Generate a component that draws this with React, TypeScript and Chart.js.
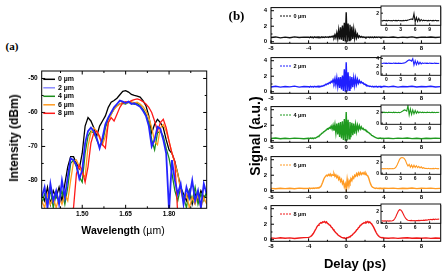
import React, { useEffect, useRef } from "react";
import { Chart, registerables } from "chart.js";

Chart.register(...registerables);

const SANS = '"Liberation Sans", Arial, Helvetica, sans-serif';
const SERIF = '"Liberation Serif", "Times New Roman", serif';

// ---------- (a) output spectra ----------
const wavelengthUm = [
  1.36, 1.37, 1.38, 1.39, 1.4, 1.41, 1.42, 1.43, 1.44, 1.45,
  1.46, 1.47, 1.48, 1.49, 1.5, 1.51, 1.52, 1.53, 1.54, 1.55,
  1.56, 1.57, 1.58, 1.59, 1.6, 1.61, 1.62, 1.63, 1.64, 1.65,
  1.66, 1.67, 1.68, 1.69, 1.7, 1.71, 1.72, 1.73, 1.74, 1.75,
  1.76, 1.77, 1.78, 1.79, 1.8, 1.81, 1.82, 1.83, 1.84, 1.85,
  1.86, 1.87, 1.88, 1.89, 1.9, 1.91, 1.92, 1.93,
];
const spec0um = [
  -84, -86, -82, -87, -83, -85, -82, -86, -81, -76,
  -73, -73, -75, -76.5, -72, -64, -61.5, -62.5, -64.5, -67,
  -64, -62.5, -61, -58.5, -57, -56.5, -55.8, -54.8, -53.8, -53.6,
  -54, -54.7, -55, -55.2, -55.5, -56.5, -58, -61, -66, -63.5,
  -62, -63, -64.5, -68, -71, -72, -74.5, -78, -82, -84,
  -86, -83, -87, -84, -86, -83, -85, -84,
];
const spec2um = [
  -85, -82, -88, -81, -86, -83, -87, -80, -85, -79,
  -73.5, -74, -75.5, -79.5, -77, -69, -65.5, -64.5, -65.5, -67.5,
  -70.5, -67.5, -63.5, -61.5, -60, -58.5, -57.5, -56.5, -56.8, -57.2,
  -56.8, -57.5, -57.3, -57.8, -58.3, -59.5, -61, -64, -70, -68,
  -64.2, -64.8, -68, -72, -89, -74, -80, -84, -81, -87,
  -82, -85, -80, -86, -83, -88, -81, -84,
];
const spec4um = [
  -87, -84, -86, -83, -88, -84, -86, -83, -87, -82,
  -75, -74, -76, -79, -80.5, -72, -67, -65.5, -66, -68,
  -70, -69, -64.5, -62, -60.5, -59, -58, -57.5, -57.3, -57.5,
  -57, -57.2, -57.6, -57.3, -58, -59, -60.5, -63, -68, -71,
  -66, -65.5, -67, -70.5, -73.5, -78, -83, -86, -82, -85,
  -88, -83, -86, -82, -87, -84, -86, -83,
];
const spec6um = [
  -86, -88, -84, -87, -85, -88, -85, -87, -84, -86,
  -80, -74.5, -74, -76, -78, -79, -70, -66, -64.5, -65.5,
  -67.5, -69.5, -67, -63, -60.5, -59, -58.2, -57.5, -57, -57.3,
  -57, -56.8, -57.2, -57, -57.5, -58.3, -59.5, -61.5, -64.5, -68.5,
  -69.5, -64.5, -63.5, -65.5, -68.5, -72, -75, -78, -83, -86,
  -84, -88, -85, -87, -84, -88, -85, -87,
];
const spec8um = [
  -90, -90, -90, -90, -90, -89, -90, -90, -90, -89,
  -90, -88, -78, -75.5, -77, -80.5, -76, -69, -66, -65.5,
  -67, -69.5, -70.5, -63, -61.5, -62.5, -60.5, -58.5, -57.2, -56.8,
  -57, -56.5, -56.2, -56, -56.3, -56.8, -57.5, -58.5, -60, -62.5,
  -65.5, -63, -62, -64.5, -68.5, -72, -74.5, -90, -89, -90,
  -90, -89, -90, -90, -89, -90, -90, -89,
];
const wavelengthTicks = [1.5, 1.65, 1.8];
const wavelengthMinor = [1.425, 1.575, 1.725, 1.875];
const intensityTicks = [-50, -60, -70, -80];
const intensityMinor = [-55, -65, -75, -85];
const thicknessLabels = ["0 \u00b5m", "2 \u00b5m", "4 \u00b5m", "6 \u00b5m", "8 \u00b5m"];

// ---------- (b) cross-correlation traces ----------
const delayPs = [
  -8, -7.5, -7, -6.5, -6, -5.5, -5, -4.5,
  -4, -3.9, -3.8, -3.7, -3.6, -3.5, -3.4, -3.3, -3.2, -3.1,
  -3, -2.9, -2.8, -2.7, -2.6, -2.5, -2.4, -2.3, -2.2, -2.1,
  -2, -1.9, -1.8, -1.7, -1.6, -1.5, -1.4, -1.3, -1.2, -1.1,
  -1, -0.9, -0.8, -0.7, -0.6, -0.5, -0.4, -0.3, -0.2, -0.1,
  0, 0.1, 0.2, 0.3, 0.4, 0.5, 0.6, 0.7, 0.8, 0.9,
  1, 1.1, 1.2, 1.3, 1.4, 1.5, 1.6, 1.7, 1.8, 1.9,
  2, 2.1, 2.2, 2.3, 2.4, 2.5, 2.6, 2.7, 2.8, 2.9,
  3, 3.1, 3.2, 3.3, 3.4, 3.5, 3.6, 3.7, 3.8, 3.9,
  4,
  4.5, 5, 5.5, 6, 6.5, 7, 7.5, 8, 8.5, 9, 9.5, 10,
];
const signal0um = [
  0.55, 0.62, 0.5, 0.6, 0.52, 0.63, 0.55, 0.6,
  0.58, 0.52, 0.62, 0.55, 0.6, 0.5, 0.63, 0.56, 0.6, 0.53,
  0.62, 0.55, 0.6, 0.52, 0.64, 0.56, 0.6, 0.54, 0.63, 0.57,
  0.62, 0.55, 0.66, 0.58, 0.68, 0.6, 0.75, 0.55, 0.9, 0.5,
  1.15, 0.4, 1.5, 0.3, 1.85, 0.25, 2.1, 0.1, 2.45, 0.05,
  3.8, 0.0, 2.35, 0.15, 2.2, 0.2, 1.95, 0.35, 1.6, 0.45,
  1.25, 0.5, 0.95, 0.55, 0.75, 0.58, 0.68, 0.56, 0.63, 0.55,
  0.6, 0.52, 0.62, 0.57, 0.6, 0.53, 0.61, 0.56, 0.6, 0.52,
  0.63, 0.55, 0.6, 0.54, 0.62, 0.57, 0.6, 0.52, 0.61, 0.55,
  0.6,
  0.56, 0.62, 0.53, 0.6, 0.55, 0.63, 0.52, 0.6, 0.57, 0.62, 0.54, 0.6,
];
const signal2um = [
  0.62, 0.7, 0.6, 0.68, 0.63, 0.72, 0.6, 0.67,
  0.65, 0.6, 0.7, 0.62, 0.68, 0.6, 0.7, 0.64, 0.68, 0.62,
  0.72, 0.65, 0.7, 0.66, 0.75, 0.72, 0.82, 0.8, 0.95, 0.9,
  1.05, 1.0, 1.2, 1.1, 1.35, 1.2, 1.55, 1.15, 1.7, 0.9,
  1.8, 0.7, 1.85, 0.5, 1.9, 0.3, 2.1, 0.1, 2.9, 0.0,
  3.8, 0.05, 2.5, 0.2, 2.0, 0.4, 1.9, 0.6, 1.8, 0.8,
  1.75, 0.95, 1.6, 1.1, 1.45, 1.15, 1.3, 1.1, 1.15, 0.95,
  1.0, 0.85, 0.85, 0.75, 0.75, 0.68, 0.72, 0.64, 0.7, 0.62,
  0.68, 0.65, 0.7, 0.6, 0.68, 0.64, 0.7, 0.62, 0.67, 0.65,
  0.7,
  0.63, 0.7, 0.6, 0.68, 0.64, 0.7, 0.61, 0.67, 0.65, 0.7, 0.62, 0.66,
];
const signal4um = [
  0.28, 0.35, 0.25, 0.33, 0.27, 0.34, 0.3, 0.26,
  0.32, 0.27, 0.35, 0.3, 0.34, 0.28, 0.36, 0.32, 0.4, 0.45,
  0.55, 0.6, 0.72, 0.8, 0.95, 1.0, 1.15, 1.2, 1.35, 1.4,
  1.55, 1.5, 1.7, 1.6, 1.9, 1.5, 2.0, 1.3, 2.1, 1.0,
  2.2, 0.8, 2.3, 0.5, 2.4, 0.3, 2.5, 0.1, 2.8, 0.0,
  3.7, 0.05, 2.7, 0.25, 2.4, 0.45, 2.3, 0.7, 2.2, 0.9,
  2.1, 1.2, 2.0, 1.4, 1.95, 1.5, 1.8, 1.5, 1.6, 1.4,
  1.45, 1.3, 1.25, 1.1, 1.05, 0.9, 0.85, 0.7, 0.65, 0.55,
  0.5, 0.42, 0.38, 0.33, 0.28, 0.35, 0.3, 0.34, 0.27, 0.33,
  0.3,
  0.32, 0.27, 0.34, 0.3, 0.35, 0.28, 0.33, 0.26, 0.32, 0.29, 0.34, 0.3,
];
const signal6um = [
  0.3, 0.25, 0.33, 0.28, 0.32, 0.26, 0.34, 0.29,
  0.3, 0.34, 0.27, 0.33, 0.29, 0.35, 0.3, 0.36, 0.32, 0.38,
  0.35, 0.42, 0.45, 0.55, 0.8, 1.1, 1.45, 1.7, 1.85, 2.0,
  1.9, 2.1, 1.95, 2.15, 1.9, 2.1, 2.0, 2.2, 1.85, 2.05,
  1.7, 1.9, 1.45, 1.7, 1.2, 1.45, 0.9, 1.2, 0.5, 0.9,
  0.2, 1.5, 0.6, 1.3, 1.0, 1.55, 1.3, 1.8, 1.6, 2.0,
  1.85, 2.2, 1.95, 2.3, 2.05, 2.35, 2.1, 2.3, 2.15, 2.35,
  2.1, 2.25, 2.0, 1.9, 1.6, 1.2, 0.85, 0.6, 0.45, 0.4,
  0.35, 0.3, 0.36, 0.29, 0.33, 0.27, 0.34, 0.3, 0.32, 0.26,
  0.33,
  0.3, 0.34, 0.27, 0.32, 0.29, 0.35, 0.28, 0.33, 0.3, 0.34, 0.27, 0.31,
];
const signal8um = [
  0.22, 0.18, 0.25, 0.2, 0.24, 0.17, 0.23, 0.28,
  0.3, 0.35, 0.42, 0.5, 0.65, 0.8, 1.0, 1.25, 1.45, 1.7,
  1.85, 2.0, 2.1, 2.2, 2.15, 2.3, 2.25, 2.35, 2.2, 2.3,
  2.1, 2.05, 1.9, 1.85, 1.65, 1.55, 1.35, 1.2, 1.05, 0.9,
  0.8, 0.65, 0.55, 0.45, 0.4, 0.3, 0.28, 0.22, 0.25, 0.15,
  0.2, 0.28, 0.25, 0.35, 0.4, 0.5, 0.55, 0.7, 0.8, 0.95,
  1.05, 1.25, 1.35, 1.55, 1.65, 1.85, 1.9, 2.05, 2.1, 2.2,
  2.15, 2.3, 2.25, 2.35, 2.2, 2.3, 2.15, 2.05, 1.85, 1.65,
  1.4, 1.15, 0.9, 0.7, 0.55, 0.42, 0.35, 0.3, 0.25, 0.28,
  0.22,
  0.2, 0.24, 0.18, 0.22, 0.25, 0.19, 0.23, 0.2, 0.24, 0.18, 0.22, 0.2,
];
const delayTicks = [-8, -4, 0, 4, 8];
const delayMinor = [-6, -2, 2, 6];
const signalTicks = [0, 2, 4];
const signalMinor = [1, 3];

// insets: wider delay window
const insetDelayPs = [
  -1, -0.75, -0.5, -0.25, 0, 0.25, 0.5, 0.75, 1, 1.25,
  1.5, 1.75, 2, 2.25, 2.5, 2.75, 3, 3.25, 3.5, 3.75,
  4, 4.25, 4.5, 4.75, 5, 5.25, 5.5, 5.75, 6, 6.25,
  6.5, 6.75, 7, 7.25, 7.5, 7.75, 8, 8.25, 8.5, 8.75,
  9, 9.25, 9.5, 9.75, 10, 10.25, 10.5, 10.75, 11,
];
const inset0um = [
  0.65, 0.6, 0.7, 0.62, 0.68, 0.6, 0.7, 0.63, 0.67, 0.6,
  0.7, 0.62, 0.68, 0.61, 0.7, 0.63, 0.67, 0.6, 0.69, 0.62,
  0.7, 0.65, 0.75, 0.82, 0.9, 0.95, 0.85, 1.9, 0.4, 1.2,
  0.5, 1.05, 0.55, 0.85, 0.6, 0.72, 0.62, 0.7, 0.6, 0.68,
  0.62, 0.7, 0.6, 0.68, 0.63, 0.7, 0.61, 0.68, 0.64,
];
const inset2um = [
  2.75, 2.7, 2.8, 2.72, 2.78, 2.7, 2.8, 2.73, 2.77, 2.7,
  2.8, 2.72, 2.78, 2.7, 2.79, 2.72, 2.77, 2.7, 2.8, 2.85,
  2.95, 3.2, 3.45, 3.6, 3.5, 3.3, 3.9, 2.3, 3.4, 2.4,
  3.2, 2.5, 3.0, 2.6, 2.85, 2.7, 2.8, 2.72, 2.78, 2.7,
  2.8, 2.72, 2.77, 2.7, 2.8, 2.73, 2.77, 2.7, 2.78,
];
const inset4um = [
  1.95, 1.9, 2.0, 1.92, 1.98, 1.9, 2.0, 1.93, 1.97, 1.9,
  2.0, 1.92, 1.98, 1.91, 1.99, 1.93, 2.0, 2.1, 2.25, 2.4,
  2.35, 2.2, 3.2, 1.5, 2.6, 1.6, 2.4, 1.7, 2.3, 1.8,
  2.15, 1.85, 2.05, 1.9, 2.0, 1.92, 1.98, 1.9, 2.0, 1.93,
  1.97, 1.9, 2.0, 1.92, 1.98, 1.91, 1.99, 1.93, 1.97,
];
const inset6um = [
  0.8, 0.85, 0.78, 0.84, 0.8, 0.86, 0.79, 0.85, 0.8, 0.84,
  0.82, 0.9, 1.1, 1.5, 2.0, 2.5, 2.75, 2.85, 2.8, 2.65,
  2.3, 1.7, 1.3, 1.6, 1.1, 1.5, 1.0, 1.45, 1.05, 1.35,
  1.0, 1.25, 0.95, 1.15, 0.9, 1.0, 0.85, 0.9, 0.82, 0.88,
  0.8, 0.86, 0.8, 0.87, 0.82, 0.88, 0.8, 0.86, 0.82,
];
const inset8um = [
  0.3, 0.35, 0.28, 0.33, 0.3, 0.34, 0.28, 0.33, 0.3, 0.36,
  0.45, 0.7, 1.1, 1.6, 2.05, 2.3, 2.25, 2.0, 1.6, 1.15,
  0.8, 0.55, 0.45, 0.4, 0.38, 0.42, 0.36, 0.4, 0.35, 0.4,
  0.37, 0.42, 0.38, 0.44, 0.4, 0.45, 0.42, 0.5, 0.45, 0.55,
  0.5, 0.6, 0.52, 0.62, 0.55, 0.65, 0.58, 0.66, 0.6,
];
const insetDelayTicks = [0, 3, 6, 9];

// ---------- generic plot ----------
type Series = { xs: number[]; ys: number[]; color: string; width: number; order?: number };
type Axis = { min: number; max: number; ticks: number[]; minor: number[]; fmt?: (v: number) => string };
type KeyItem = { text: string; color: string };
type Key = {
  items: KeyItem[]; dy: number; step: number; x0: number; x1: number; tx: number;
  font: string; dash: number[]; lw: number;
};
type PlotSpec = {
  box: [number, number, number, number];
  area: [number, number, number, number];
  x: Axis;
  y: Axis;
  series: Series[];
  fontSize: number;
  padX: number;
  padY: number;
  tickLen: [number, number];
  mirror: boolean;
  frameWidth: number;
  fill: boolean;
  key?: Key;
};

function buildConfig(s: PlotSpec): any {
  const [bx, by, bw, bh] = s.box;
  const [al, at, ar, ab] = s.area;
  const yW = al - bx;
  const xH = by + bh - ab;
  const font = { family: SANS, size: s.fontSize, weight: "bold" as const, lineHeight: 1.2 };

  const axis = (a: Axis, pad: number, fit: (sc: any) => void) => ({
    type: "linear",
    min: a.min,
    max: a.max,
    grid: { display: false, drawTicks: false, tickLength: 0 },
    border: { display: false },
    ticks: {
      font,
      color: "#000",
      padding: pad,
      autoSkip: false,
      maxRotation: 0,
      minRotation: 0,
      callback: (v: any) => (a.fmt ? a.fmt(Number(v)) : String(v)),
    },
    afterBuildTicks: (sc: any) => {
      sc.ticks = a.ticks.map((v) => ({ value: v }));
    },
    afterFit: fit,
  });

  const framePlugin = {
    id: "frameAndKey",
    beforeDraw(chart: any) {
      if (!s.fill) return;
      const { ctx, chartArea: c } = chart;
      ctx.save();
      ctx.fillStyle = "#fff";
      ctx.fillRect(c.left, c.top, c.right - c.left, c.bottom - c.top);
      ctx.restore();
    },
    afterDraw(chart: any) {
      const { ctx, chartArea: c } = chart;
      const xs = chart.scales.x;
      const ys = chart.scales.y;
      const [maj, mnr] = s.tickLen;
      ctx.save();
      ctx.strokeStyle = "#000";
      ctx.lineWidth = s.frameWidth;
      ctx.strokeRect(c.left, c.top, c.right - c.left, c.bottom - c.top);
      ctx.beginPath();
      const tickX = (v: number, len: number) => {
        const p = xs.getPixelForValue(v);
        ctx.moveTo(p, c.bottom);
        ctx.lineTo(p, c.bottom - len);
        if (s.mirror) {
          ctx.moveTo(p, c.top);
          ctx.lineTo(p, c.top + len);
        }
      };
      const tickY = (v: number, len: number) => {
        const p = ys.getPixelForValue(v);
        ctx.moveTo(c.left, p);
        ctx.lineTo(c.left + len, p);
        if (s.mirror) {
          ctx.moveTo(c.right, p);
          ctx.lineTo(c.right - len, p);
        }
      };
      s.x.ticks.forEach((v) => tickX(v, maj));
      s.x.minor.forEach((v) => tickX(v, mnr));
      s.y.ticks.forEach((v) => tickY(v, maj));
      s.y.minor.forEach((v) => tickY(v, mnr));
      ctx.stroke();

      const k = s.key;
      if (k) {
        k.items.forEach((it, i) => {
          const y = c.top + k.dy + i * k.step;
          ctx.setLineDash(k.dash);
          ctx.strokeStyle = it.color;
          ctx.lineWidth = k.lw;
          ctx.beginPath();
          ctx.moveTo(c.left + k.x0, y);
          ctx.lineTo(c.left + k.x1, y);
          ctx.stroke();
          ctx.setLineDash([]);
          ctx.fillStyle = "#000";
          ctx.font = k.font;
          ctx.textAlign = "left";
          ctx.textBaseline = "middle";
          ctx.fillText(it.text, c.left + k.tx, y);
        });
      }
      ctx.restore();
    },
  };

  return {
    type: "line",
    data: {
      datasets: s.series.map((se) => ({
        data: se.xs.map((x, i) => ({ x, y: se.ys[i] })),
        borderColor: se.color,
        borderWidth: se.width,
        pointRadius: 0,
        tension: 0,
        fill: false,
        order: se.order ?? 0,
      })),
    },
    options: {
      animation: false,
      responsive: false,
      maintainAspectRatio: false,
      events: [],
      layout: { padding: { left: 0, bottom: 0, top: at - by, right: bx + bw - ar } },
      plugins: { legend: { display: false }, tooltip: { enabled: false } },
      scales: {
        x: { ...axis(s.x, s.padX, (sc: any) => { sc.height = xH; }), position: "bottom" },
        y: { ...axis(s.y, s.padY, (sc: any) => { sc.width = yW; }), position: "left" },
      },
    },
    plugins: [framePlugin],
  };
}

function Plot({ spec }: { spec: PlotSpec }) {
  const ref = useRef<HTMLCanvasElement>(null);
  useEffect(() => {
    const chart = new Chart(ref.current as HTMLCanvasElement, buildConfig(spec));
    return () => chart.destroy();
  }, []);
  const [x, y, w, h] = spec.box;
  return (
    <canvas
      ref={ref}
      width={w}
      height={h}
      style={{ position: "absolute", left: x, top: y, width: w, height: h }}
    />
  );
}

function Label(props: {
  x: number; y: number; size: number; rotate?: boolean; serif?: boolean; children: React.ReactNode;
}) {
  return (
    <div
      style={{
        position: "absolute",
        left: props.x,
        top: props.y,
        transform: `translate(-50%, -50%)${props.rotate ? " rotate(-90deg)" : ""}`,
        fontFamily: props.serif ? SERIF : SANS,
        fontSize: props.size,
        fontWeight: "bold",
        lineHeight: 1,
        whiteSpace: "nowrap",
        color: "#000",
      }}
    >
      {props.children}
    </div>
  );
}

// ---------- specs ----------
const spectraColors = ["#000000", "#2424ff", "#1a8c1a", "#ff9a1f", "#ff1a1a"];
const spectraKeyColors = ["#000000", "#8c8cff", "#1a8c1a", "#ff9a1f", "#ff1a1a"];
const spectraSeries = [spec0um, spec2um, spec4um, spec6um, spec8um];
const spectraOrder = [4, 0, 3, 2, 1];

const spectraSpec: PlotSpec = {
  box: [0, 60, 212, 166],
  area: [41.7, 71, 206.7, 208.3],
  x: { min: 1.36, max: 1.93, ticks: wavelengthTicks, minor: wavelengthMinor, fmt: (v) => v.toFixed(2) },
  y: { min: -88.2, max: -47.8, ticks: intensityTicks, minor: intensityMinor },
  series: spectraSeries.map((ys, i) => ({
    xs: wavelengthUm,
    ys,
    color: spectraColors[i],
    width: i === 1 ? 1.8 : 1.3,
    order: spectraOrder[i],
  })),
  fontSize: 6.5,
  padX: 2,
  padY: 4,
  tickLen: [3.5, 2],
  mirror: true,
  frameWidth: 1,
  fill: false,
  key: {
    items: thicknessLabels.map((text, i) => ({ text, color: spectraKeyColors[i] })),
    dy: 8.3,
    step: 8.5,
    x0: 1.6,
    x1: 13.3,
    tx: 16.3,
    font: `bold 7px ${SANS}`,
    dash: [],
    lw: 1.5,
  },
};

const traceColors = ["#111111", "#1f1fff", "#1f9a1f", "#ff9a22", "#f01818"];
const traceSeries = [signal0um, signal2um, signal4um, signal6um, signal8um];
const insetSeries = [inset0um, inset2um, inset4um, inset6um, inset8um];
const insetRanges: [number, number][] = [[-0.2, 3.3], [-0.3, 4.6], [-0.2, 3.3], [-0.2, 3.3], [-0.1, 3.3]];
const insetTicksY = [[2], [0, 2, 4], [0, 2], [0, 2], [0, 2]];

const PITCH = 49.6;

const traceSpecs: PlotSpec[] = traceSeries.map((ys, n) => {
  const top = 3.3 + PITCH * n;
  return {
    box: [250, PITCH * n, 193, 53],
    area: [271, top, 440.7, top + 40],
    x: { min: -8, max: 10.05, ticks: delayTicks, minor: delayMinor },
    y: { min: -0.2, max: 4.4, ticks: signalTicks, minor: signalMinor },
    series: [{ xs: delayPs, ys, color: traceColors[n], width: 1.4 }],
    fontSize: 6,
    padX: 1.5,
    padY: 4,
    tickLen: [3, 1.5],
    mirror: false,
    frameWidth: 1,
    fill: false,
    key: {
      items: [{ text: thicknessLabels[n], color: traceColors[n] }],
      dy: 8.4,
      step: 0,
      x0: 9,
      x1: 20.7,
      tx: 22.5,
      font: `bold 5.5px ${SANS}`,
      dash: [2, 1],
      lw: 1,
    },
  };
});

const insetSpecs: PlotSpec[] = insetSeries.map((ys, n) => {
  const top = 4.3 + PITCH * n;
  return {
    box: [366, PITCH * n + 1, 77, 33],
    area: [381, top, 440.7, top + 21],
    x: { min: -1.1, max: 11.3, ticks: insetDelayTicks, minor: [] },
    y: { min: insetRanges[n][0], max: insetRanges[n][1], ticks: insetTicksY[n], minor: [] },
    series: [{ xs: insetDelayPs, ys, color: traceColors[n], width: 1.1 }],
    fontSize: 5,
    padX: 1,
    padY: 2,
    tickLen: [2, 1],
    mirror: false,
    frameWidth: 0.9,
    fill: true,
  };
});

export default function App() {
  return (
    <div
      style={{
        position: "fixed",
        left: 0,
        top: 0,
        width: 443,
        height: 274,
        background: "#fff",
        overflow: "hidden",
      }}
    >
      <Plot spec={spectraSpec} />
      {traceSpecs.map((s, i) => (
        <Plot key={`t${i}`} spec={s} />
      ))}
      {insetSpecs.map((s, i) => (
        <Plot key={`i${i}`} spec={s} />
      ))}
      <Label x={12} y={46} size={11} serif>(a)</Label>
      <Label x={236.5} y={15} size={13} serif>(b)</Label>
      <Label x={13.5} y={138} size={12} rotate>Intensity (dBm)</Label>
      <Label x={123} y={230} size={10.5}>
        Wavelength <span style={{ fontWeight: "normal" }}>({"\u00b5"}m)</span>
      </Label>
      <Label x={255} y={136} size={14} rotate>Signal (a.u.)</Label>
      <Label x={355} y={263} size={13}>Delay (ps)</Label>
    </div>
  );
}
